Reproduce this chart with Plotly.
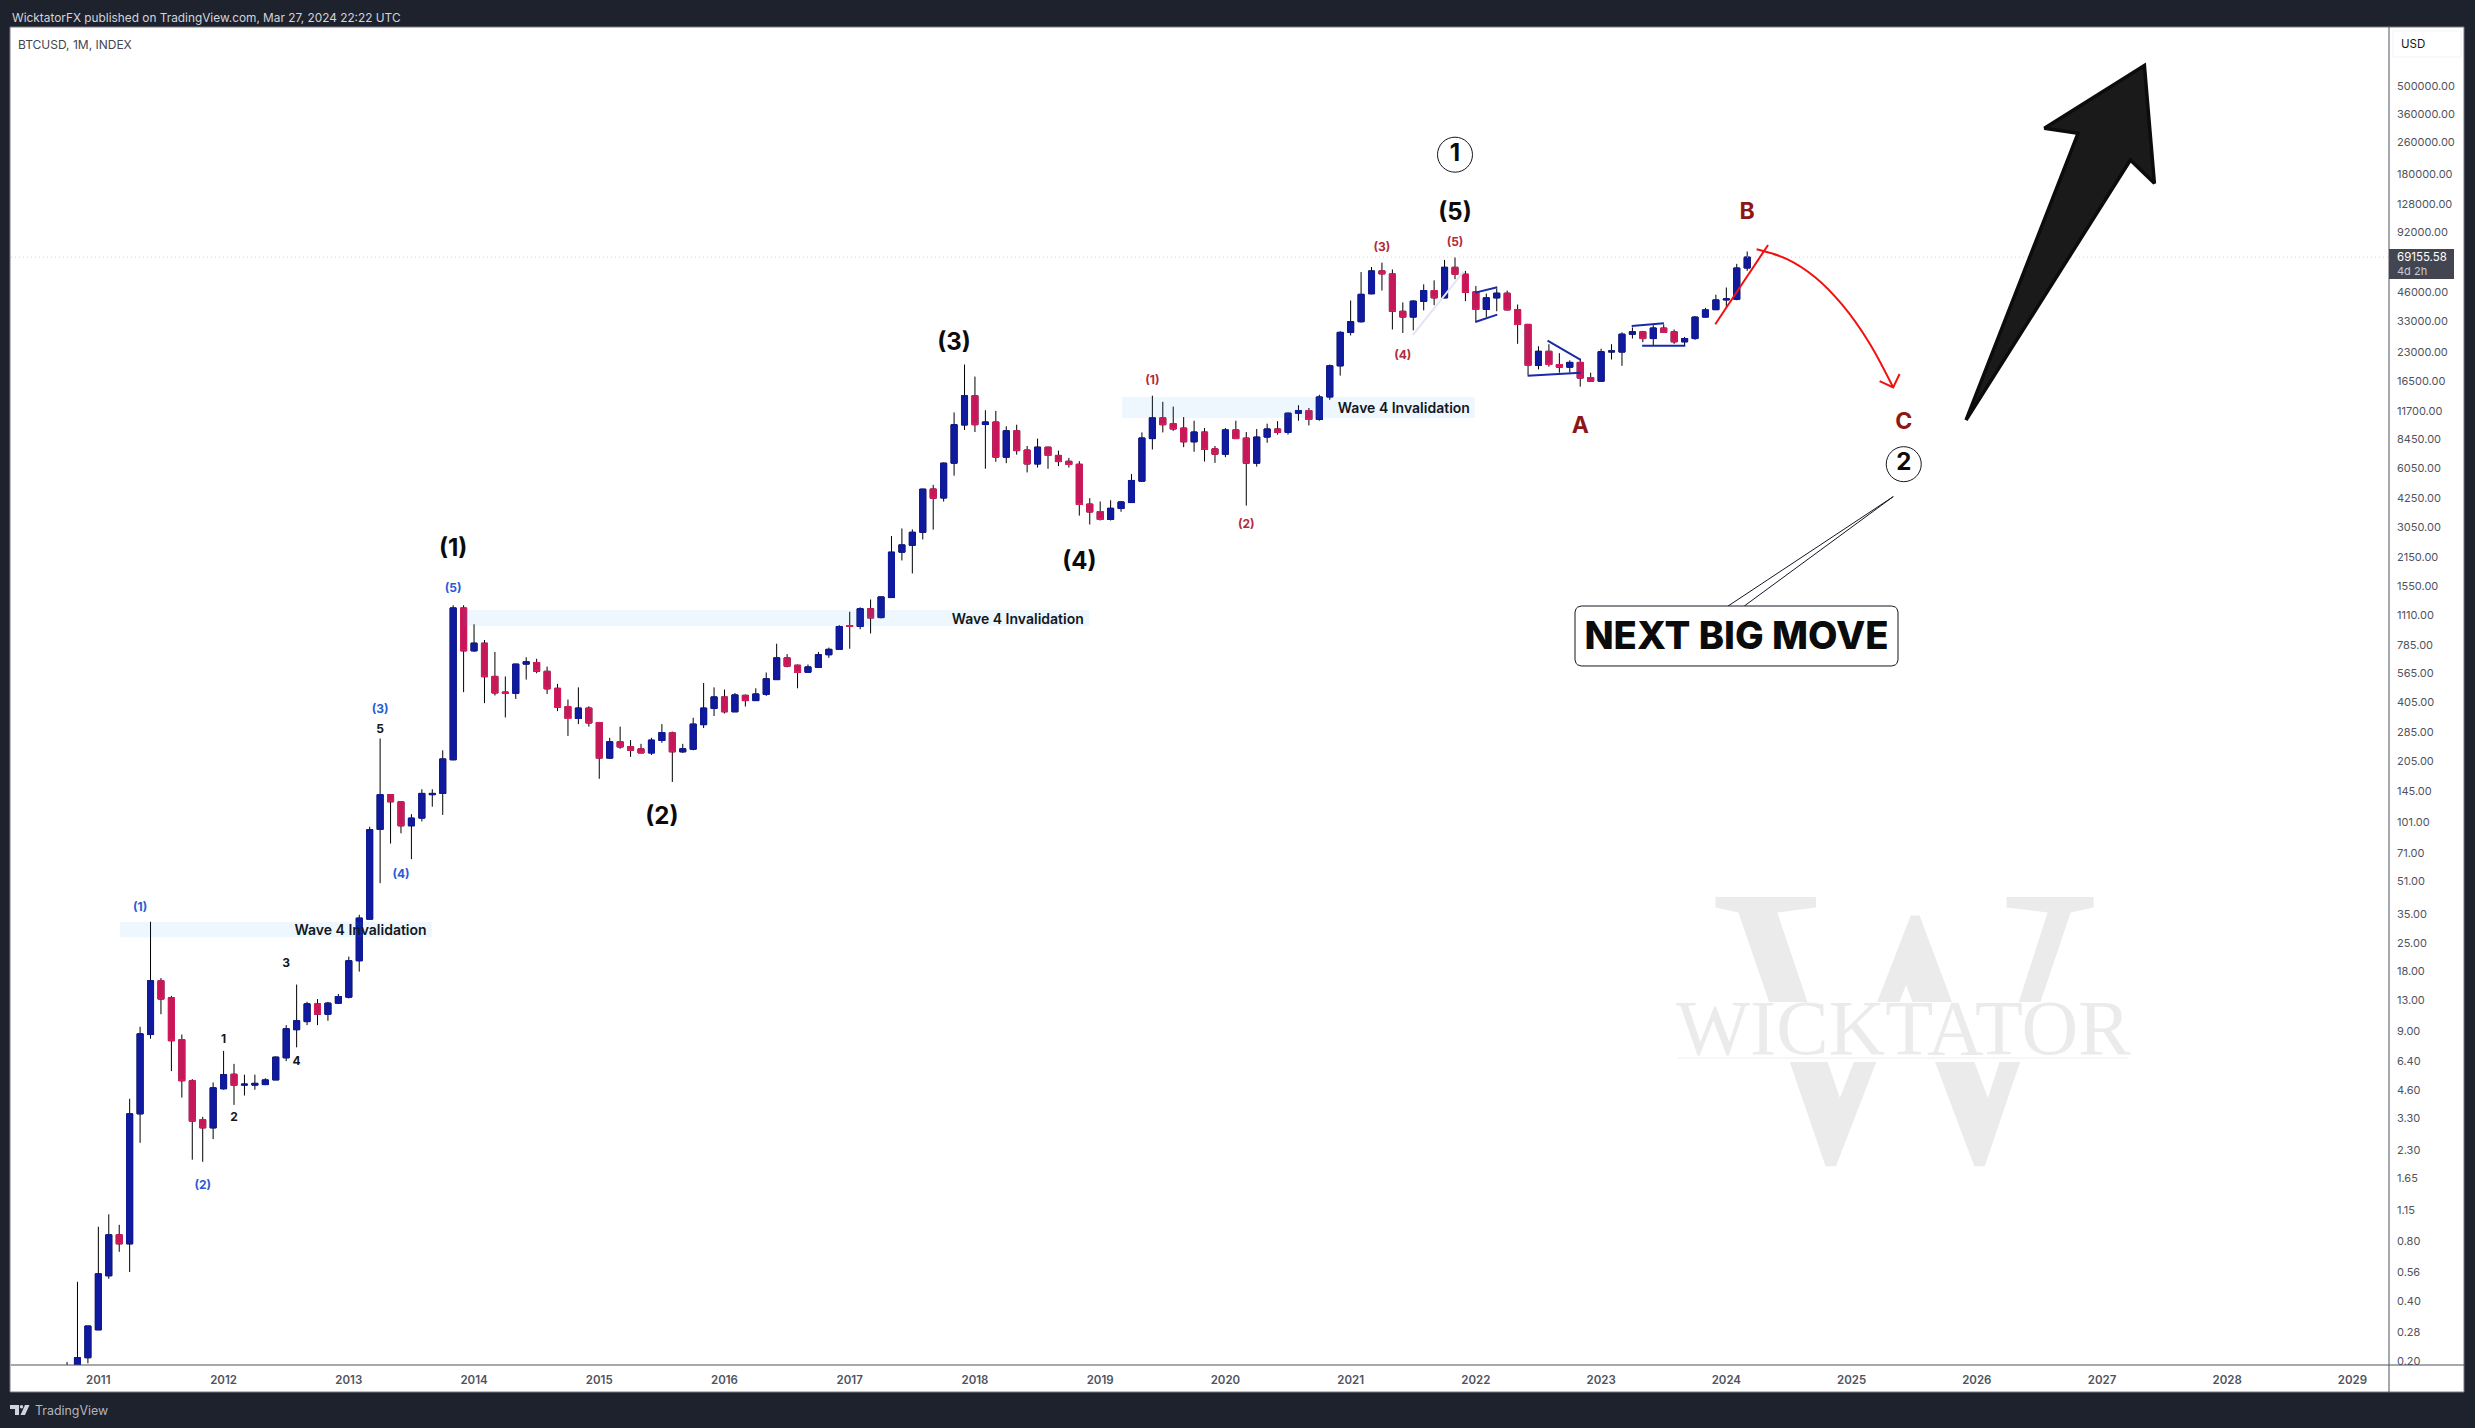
import math
import plotly.graph_objects as go

# ---------- data: monthly BTCUSD candles, Oct 2010 .. Mar 2024 ----------
first_month_index = -3  # months relative to Jan 2011
opens = [
    0.06, 0.19, 0.208,
    0.287, 0.536, 0.86, 0.775, 3.48, 8.7, 16.2, 13.3, 8.2, 5.1, 3.25, 2.96,
    4.65, 5.5, 4.85, 4.85, 4.88, 5.15, 6.65, 9.2, 10.1, 12.4, 11, 12.5,
    13.4, 20.4, 33, 93, 139, 128, 97, 106, 139, 141, 208, 1202,
    732, 800, 545, 455, 448, 628, 640, 578, 475, 385, 335, 378,
    320, 212, 256, 242, 236, 225, 260, 284, 228, 235, 312, 376,
    430, 362, 438, 412, 443, 525, 675, 620, 572, 605, 700, 745,
    980, 970, 1190, 1075, 1355, 2290, 2480, 2880, 4750, 4280, 6400, 9950,
    13950, 10000, 10300, 6860, 9300, 7450, 6340, 7700, 7000, 6540, 6320, 3990,
    3660, 3340, 3790, 4060, 5200, 8500, 10800, 10100, 9600, 8190, 9170, 7550,
    7100, 9400, 8550, 6400, 8650, 9500, 9130, 11400, 11750, 10600, 13750, 19700,
    29000, 32800, 45300, 59000, 57000, 37000, 34600, 41500, 47000, 43200, 61500, 56800,
    46300, 37800, 43200, 45600, 37700, 31800, 19800, 23300, 20000, 19400, 20500, 17200,
    16500, 23100, 23100, 28400, 29200, 27000, 30500, 29200, 26000, 27000, 34600, 37700,
    42200, 42500, 61000,
]
highs = [
    0.198, 0.50, 0.30,
    0.944, 1.09, 0.966, 4.14, 9.51, 32, 16.7, 13.6, 8.7, 5.2, 3.36, 5.0,
    7.2, 6.2, 5.47, 5.47, 5.25, 6.75, 9.7, 15.5, 12.7, 13.1, 12.7, 13.9,
    21.4, 34.7, 96, 266, 140, 129, 111, 148, 148, 232, 1240, 1240,
    995, 830, 723, 545, 630, 680, 668, 610, 500, 417, 480, 386,
    322, 268, 305, 261, 250, 268, 314, 288, 250, 338, 505, 480,
    468, 450, 442, 475, 570, 795, 705, 625, 625, 723, 760, 985,
    1150, 1210, 1325, 1370, 2760, 3010, 2980, 4760, 4980, 6450, 11500, 20000,
    17400, 11800, 11700, 9800, 9980, 7800, 8500, 7730, 7400, 6800, 6550, 4270,
    4110, 4170, 4120, 5650, 9130, 13950, 13000, 12300, 10900, 10450, 9600, 7800,
    9600, 10450, 9170, 9500, 10100, 10400, 11500, 12500, 12100, 14100, 20000, 29400,
    41900, 58200, 61700, 64900, 60000, 41000, 42000, 50500, 52900, 67000, 69000, 59000,
    49500, 45400, 48200, 47000, 40000, 31900, 24700, 25300, 22800, 21000, 21400, 18200,
    24000, 25300, 29000, 30700, 29500, 31500, 31800, 30000, 27500, 35000, 38500, 44800,
    48700, 64000, 73800,
]
lows = [
    0.06, 0.19, 0.195,
    0.287, 0.518, 0.707, 0.56, 2.49, 8.29, 11.0, 5.7, 4.2, 2.05, 2.0, 2.6,
    4.6, 3.86, 4.3, 4.6, 4.85, 5.15, 6.4, 7.5, 9.7, 9.7, 10.2, 12.4,
    13.2, 18, 33, 50, 79, 89, 66, 102, 121, 110, 207, 454,
    725, 400, 437, 339, 420, 525, 565, 445, 365, 274, 314, 305,
    167, 210, 236, 215, 225, 220, 253, 161, 225, 232, 300, 345,
    355, 362, 385, 410, 435, 525, 605, 475, 570, 600, 675, 740,
    750, 940, 895, 1065, 1350, 2080, 1790, 2650, 2970, 4110, 5540, 9390,
    9170, 6000, 6500, 6400, 7060, 5750, 6080, 6000, 6190, 6080, 3490, 3150,
    3300, 3300, 3650, 4050, 5170, 7500, 9130, 9300, 7700, 7300, 6520, 6420,
    6860, 8500, 3920, 6150, 8100, 8900, 8900, 10450, 9900, 10450, 13300, 17600,
    28000, 32500, 45000, 47000, 30000, 28800, 29700, 37400, 39700, 43000, 53600, 41600,
    32800, 34500, 37000, 37300, 25400, 17700, 18900, 19500, 18200, 18200, 15500, 16400,
    16500, 21200, 19700, 27000, 25900, 25000, 28900, 25400, 24900, 26600, 34400, 37500,
    38500, 42000, 59000,
]
closes = [
    0.19, 0.208, 0.30,
    0.548, 0.86, 0.775, 3.48, 8.77, 16.2, 13.1, 8.1, 5.1, 3.2, 2.96, 4.7,
    5.47, 4.84, 4.9, 4.95, 5.15, 6.7, 9.3, 10.2, 12.4, 11.0, 12.5, 13.5,
    20.4, 33.4, 92.7, 139, 128, 97, 106, 141, 141, 210, 1202, 732,
    800, 543, 450, 448, 628, 645, 578, 472, 382, 335, 378, 318,
    212, 256, 241, 232, 225, 261, 285, 228, 236, 314, 378, 430,
    362, 440, 412, 445, 530, 675, 613, 570, 608, 700, 745, 970,
    970, 1190, 1070, 1365, 2290, 2490, 2880, 4740, 4270, 6400, 9980, 13950,
    9980, 10300, 6860, 9300, 7400, 6340, 7700, 7000, 6520, 6300, 3970, 3640,
    3340, 3800, 4090, 5240, 8560, 10800, 9980, 9500, 8190, 9170, 7500, 7100,
    9400, 8500, 6400, 8650, 9500, 9130, 11400, 11750, 10600, 13750, 19700, 29000,
    32800, 45000, 59000, 57000, 37000, 34600, 41600, 47000, 43200, 61500, 56700, 46000,
    37800, 43200, 45600, 37600, 31800, 19800, 23300, 20000, 19400, 20500, 17100, 16500,
    23200, 23400, 28400, 29200, 27000, 30500, 29000, 26000, 27000, 34600, 37600, 42200,
    42700, 61000, 69155.58,
]
assert len(opens) == len(highs) == len(lows) == len(closes) == 162

year_ticks = list(range(2011, 2030))
price_ticks = [500000, 360000, 260000, 180000, 128000, 92000, 46000, 33000, 23000, 16500,
               11700, 8450, 6050, 4250, 3050, 2150, 1550, 1110, 785, 565, 405, 285, 205,
               145, 101, 71, 51, 35, 25, 18, 13, 9, 6.4, 4.6, 3.3, 2.3, 1.65, 1.15, 0.8,
               0.56, 0.4, 0.28, 0.2]
last_price = 69155.58

# (text, month index, price)
big_labels = [("(1)", 34, 2352), ("(2)", 54, 106), ("(3)", 82, 25400), ("(4)", 94, 2019), ("(5)", 130, 114300)]
abc_labels = [("A", 142, 9660), ("B", 158, 114900), ("C", 173, 10140)]
blue_labels = [("(1)", 4, 37.5), ("(2)", 10, 1.51), ("(3)", 27, 370), ("(4)", 29, 55), ("(5)", 34, 1500)]
black_labels = [("5", 27, 295), ("1", 12, 8.2), ("2", 13, 3.3), ("3", 18, 19.6), ("4", 19, 6.3)]
red_labels = [("(1)", 101, 16450), ("(2)", 110, 3115), ("(3)", 123, 77200), ("(4)", 125, 21970), ("(5)", 130, 81500)]
circle_labels = [("1", 130, 225900), ("2", 173, 6325)]

# invalidation zones: x0, x1, price top, price bottom
zones = [(2.08, 31.98, 31.9, 26.8), (34.95, 94.95, 1174, 975), (98.1, 131.9, 13750, 10780)]
zone_labels = [("Wave 4 Invalidation", 25.13, 28.5), ("Wave 4 Invalidation", 88.1, 1042), ("Wave 4 Invalidation", 125.1, 11890)]

pattern_lines = [
    ([131.94, 134.05], [45900, 48800]), ([131.94, 134.05], [32700, 35600]),
    ([138.87, 142.04], [26340, 21080]), ([136.96, 142.04], [17570, 18200]),
    ([146.93, 150.02], [31200, 32200]), ([147.93, 152.07], [24870, 24870]),
]
faint_line = ([125.97, 130.82], [28140, 58500])
red_line = ([154.94, 160.0], [31830, 79600])
red_curve_x = [158.9, 161.77, 164.51, 167.12, 169.63, 171.99]
red_curve_y = [75700, 67800, 54800, 39800, 26030, 15350]
red_head_x = [170.69, 171.99, 172.6]
red_head_y = [16530, 15350, 17930]
big_arrow_x = [178.97, 189.71, 186.48, 196.06, 197.02, 194.72, 178.97]
big_arrow_y = [10530, 289300, 306500, 632000, 162300, 212400, 10530]
callout_x = [156.17, 172.0, 157.72]
callout_y = [1229, 4350, 1229]
callout_box = (141.5, 172.45, 1229, 614.7)

# ---------- layout frame (pixels of the 2475x1428 page) ----------
W, H = 2475, 1428
L, R, T, B = 11, 2389, 27, 1365
fx = lambda p: (p - L) / (R - L)
fy = lambda p: (B - p) / (B - T)
BLUE, RED_FILL, RED_EDGE = "#0f1a9e", "#c4185a", "#e21b60"
DARK = "#1e222d"
FONT = "Inter"

fig = go.Figure()
months = [first_month_index + i for i in range(len(opens))]

# dotted last-price line
fig.add_trace(go.Scatter(x=[-8.37, 219.5], y=[last_price, last_price], mode="lines",
                         line=dict(color="#d1d4dc", width=1, dash="1px,3px"), hoverinfo="skip"))

# wicks (black) then bodies (coloured) on top
fig.add_trace(go.Candlestick(x=months, open=opens, high=highs, low=lows, close=closes,
                             increasing=dict(line=dict(color="#000000", width=1), fillcolor="#000000"),
                             decreasing=dict(line=dict(color="#000000", width=1), fillcolor="#000000"),
                             hoverinfo="skip"))
fig.add_trace(go.Candlestick(x=months, open=opens, close=closes,
                             high=[max(o, c) for o, c in zip(opens, closes)],
                             low=[min(o, c) for o, c in zip(opens, closes)],
                             increasing=dict(line=dict(color=BLUE, width=1), fillcolor=BLUE),
                             decreasing=dict(line=dict(color=RED_EDGE, width=1), fillcolor=RED_FILL),
                             hoverinfo="skip"))

def text_trace(items, size, color, weight=700, family=FONT):
    fig.add_trace(go.Scatter(x=[i[1] for i in items], y=[i[2] for i in items],
                             text=[i[0] for i in items], mode="text", textposition="middle center",
                             textfont=dict(size=size, color=color, family=family, weight=weight),
                             cliponaxis=False, hoverinfo="skip"))

def line_trace(xs, ys, color, width, fill=None, fillcolor=None, shape="linear"):
    fig.add_trace(go.Scatter(x=xs, y=ys, mode="lines", fill=fill, fillcolor=fillcolor,
                             line=dict(color=color, width=width, shape=shape), hoverinfo="skip"))

# invalidation zones
for x0, x1, top, bot in zones:
    fig.add_trace(go.Scatter(x=[x0, x1, x1, x0, x0], y=[top, top, bot, bot, top], mode="lines",
                             fill="toself", fillcolor="rgba(33,150,243,0.08)",
                             line=dict(width=0, color="rgba(0,0,0,0)"), hoverinfo="skip"))
text_trace(zone_labels, 14, "#131722", 600)

# drawings
line_trace(*faint_line, "#e3e4f6", 2)
for xs, ys in pattern_lines:
    line_trace(xs, ys, "#1a2aa6", 2)
line_trace(*red_line, "#f2100f", 2)
line_trace(red_curve_x, red_curve_y, "#f2100f", 2, shape="spline")
line_trace(red_head_x, red_head_y, "#f2100f", 2)
line_trace(big_arrow_x, big_arrow_y, "#0c0c0c", 3.5, fill="toself", fillcolor="#1a1a1a")
line_trace(callout_x, callout_y, "#131722", 1)

# rounded callout box, built in axis units
x0, x1, ytop, ybot = callout_box
rx, ry = 0.6, 2 ** (6 / 60)
box_x, box_y = [], []
corners = [(x1 - rx, ytop / ry, -90), (x1 - rx, ybot * ry, 0), (x0 + rx, ybot * ry, 90), (x0 + rx, ytop / ry, 180)]
for cx, cy, start in corners:
    for k in range(6):
        a = math.radians(start + k * 18)
        box_x.append(cx + rx * math.cos(a))
        box_y.append(cy * ry ** (-math.sin(a)))
box_x.append(box_x[0]); box_y.append(box_y[0])
line_trace(box_x, box_y, "#131722", 1, fill="toself", fillcolor="#ffffff")
text_trace([("NEXT BIG MOVE", (x0 + x1) / 2, math.sqrt(ytop * ybot) * 0.966)], 38.2, "#0b0b0b", 800)

# wave labels
text_trace(big_labels, 24, "#0b0b0b", 700)
text_trace(abc_labels, 23, "#8c1717", 700)
text_trace(blue_labels, 12, "#2a5bd7", 700)
text_trace(black_labels, 12, "#131722", 700)
text_trace(red_labels, 12, "#b32b3b", 700)
fig.add_trace(go.Scatter(x=[c[1] for c in circle_labels], y=[c[2] for c in circle_labels],
                         text=[c[0] for c in circle_labels], mode="markers+text",
                         textposition="middle center", cliponaxis=False,
                         marker=dict(size=35, color="#ffffff", line=dict(color="#131722", width=1)),
                         textfont=dict(size=24, color="#0b0b0b", family=FONT, weight=700), hoverinfo="skip"))

# watermark big W (band and second line are laid on top of it)
text_trace([("W", 173.1, 6.5)], 402, "#ebebeb", 400, "Liberation Serif")

shapes = [
    dict(type="rect", xref="paper", yref="paper", x0=fx(10), x1=fx(2464), y0=fy(27), y1=fy(1392),
         fillcolor="#ffffff", line=dict(color="#787b86", width=1), layer="below"),
    dict(type="rect", xref="paper", yref="paper", x0=fx(1670), x1=fx(2135), y0=fy(1002), y1=fy(1062),
         fillcolor="#ffffff", line=dict(width=0), layer="above"),
    dict(type="line", xref="paper", yref="paper", x0=fx(1678), x1=fx(2128), y0=fy(1058), y1=fy(1058),
         line=dict(color="#f6eaea", width=1), layer="above"),
    dict(type="line", xref="paper", yref="paper", x0=fx(R), x1=fx(R), y0=fy(27), y1=fy(1392),
         line=dict(color="#50535e", width=1), layer="above"),
    dict(type="line", xref="paper", yref="paper", x0=fx(11), x1=fx(2464), y0=fy(B), y1=fy(B),
         line=dict(color="#50535e", width=1), layer="above"),
    # last-price tag
    dict(type="rect", xref="paper", yref="paper", x0=fx(R), x1=fx(2454), y0=fy(249), y1=fy(279),
         fillcolor="#434651", line=dict(width=0), layer="above"),
    # USD button
    dict(type="rect", xref="paper", yref="paper", x0=fx(2393), x1=fx(2461), y0=fy(31), y1=fy(57),
         fillcolor="#ffffff", line=dict(color="#f0f3fa", width=1), layer="above"),
    # TradingView logo
    dict(type="path", xref="paper", yref="paper", layer="above", fillcolor="#d1d4dc", line=dict(width=0),
         path="M %f %f L %f %f L %f %f L %f %f L %f %f L %f %f Z" % (
             fx(10), fy(1405), fx(19), fy(1405), fx(19), fy(1415), fx(15), fy(1415), fx(15), fy(1409), fx(10), fy(1409))),
    dict(type="circle", xref="paper", yref="paper", layer="above", fillcolor="#d1d4dc", line=dict(width=0),
         x0=fx(19.8), x1=fx(23.2), y0=fy(1405), y1=fy(1408.6)),
    dict(type="path", xref="paper", yref="paper", layer="above", fillcolor="#d1d4dc", line=dict(width=0),
         path="M %f %f L %f %f L %f %f L %f %f Z" % (
             fx(25), fy(1405), fx(29.5), fy(1405), fx(25), fy(1415), fx(20.5), fy(1415))),
]

def chrome_text(text, px, py, size, color, weight=400, anchor="left", family=FONT):
    return dict(text=text, xref="paper", yref="paper", x=fx(px), y=fy(py), xanchor=anchor, yanchor="middle",
                showarrow=False, font=dict(family=family, size=size, color=color, weight=weight))

annotations = [
    chrome_text("WicktatorFX published on TradingView.com, Mar 27, 2024 22:22 UTC", 10, 17.5, 11.85, "#d1d4dc"),
    chrome_text("BTCUSD, 1M, INDEX", 16, 44.5, 12, "#434651"),
    chrome_text("USD", 2399, 44, 11.5, "#131722"),
    chrome_text("69155.58", 2395, 256.5, 11.5, "#ffffff"),
    chrome_text("4d 2h", 2395, 270.5, 11, "#c8cad2"),
    chrome_text("TradingView", 33, 1410.5, 12.4, "#b2b5be"),
    chrome_text("WICKTATOR", 1903.5, 1027, 78.5, "#ebebeb", 400, "center", "Liberation Serif"),
]

fig.update_layout(
    width=W, height=H, autosize=False, showlegend=False,
    paper_bgcolor=DARK, plot_bgcolor="#ffffff",
    margin=dict(l=L, r=W - R, t=T, b=H - B, pad=0),
    boxgap=0.42, boxgroupgap=0, boxmode="overlay",
    shapes=shapes, annotations=annotations,
    xaxis=dict(range=[-8.37, 219.5], rangeslider=dict(visible=False), showgrid=False, zeroline=False,
               showline=False, ticks="", tickmode="array",
               tickvals=[(y - 2011) * 12 for y in year_ticks], ticktext=[str(y) for y in year_ticks],
               tickfont=dict(family=FONT, size=11.5, color="#50535e", weight=600), ticklabelstandoff=6),
    yaxis=dict(type="log", side="right", range=[-0.7185, 5.9945], showgrid=False, zeroline=False,
               showline=False, ticks="", tickmode="array", tickvals=price_ticks,
               ticktext=["%.2f" % p for p in price_ticks],
               tickfont=dict(family=FONT, size=11, color="#50535e"), ticklabelstandoff=7),
)

fig.write_html("out.html", config={"displayModeBar": False},
               post_script="document.body.style.margin='0';document.body.style.overflow='hidden';")
